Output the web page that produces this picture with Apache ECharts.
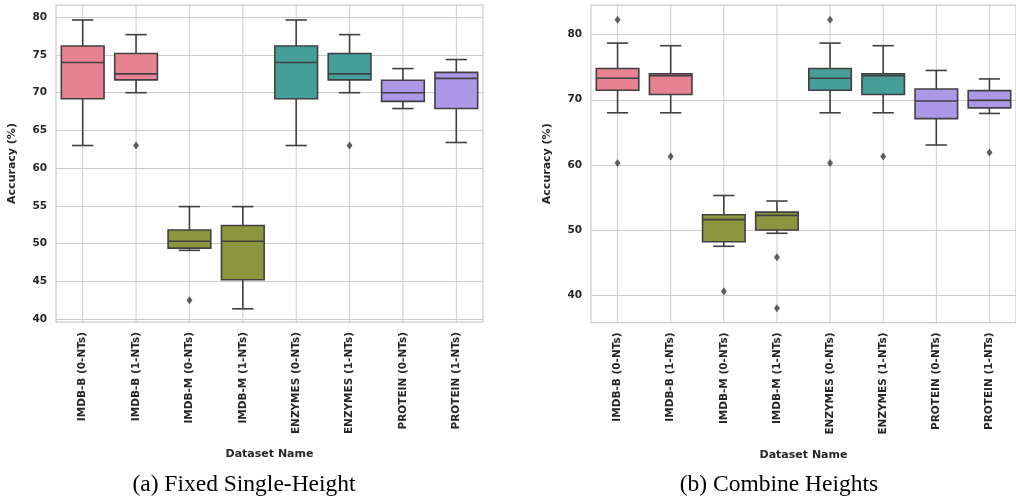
<!DOCTYPE html>
<html><head><meta charset="utf-8">
<script src="https://cdn.jsdelivr.net/npm/echarts@6/dist/echarts.min.js"></script>
<style>html,body{margin:0;padding:0;background:#fff}#c{width:1016px;height:498px}</style>
</head><body><div id="c"></div>
<script>
const categories = ['IMDB-B (0-NTs)', 'IMDB-B (1-NTs)', 'IMDB-M (0-NTs)', 'IMDB-M (1-NTs)', 'ENZYMES (0-NTs)', 'ENZYMES (1-NTs)', 'PROTEIN (0-NTs)', 'PROTEIN (1-NTs)'];
const yTicksFixed = [40, 45, 50, 55, 60, 65, 70, 75, 80];
const yTicksCombine = [40, 50, 60, 70, 80];

// (a) Fixed Single-Height
const fixedLow    = [63.0, 70.0, 49.1, 41.35, 63.0, 70.0, 67.9, 63.4];
const fixedQ1     = [69.2, 71.7, 49.4, 45.2, 69.2, 71.7, 68.85, 67.9];
const fixedMedian = [74.0, 72.5, 50.3, 50.3, 74.0, 72.5, 70.0, 71.9];
const fixedQ3     = [76.2, 75.2, 51.8, 52.4, 76.2, 75.2, 71.65, 72.7];
const fixedHigh   = [79.64, 77.7, 54.9, 54.9, 79.64, 77.7, 73.2, 74.4];
const fixedOutliers = [[1, 63.0], [2, 42.5], [5, 63.0]];

// (b) Combine Heights
const combLow    = [68.0, 68.0, 47.5, 49.5, 68.0, 68.0, 63.05, 67.9];
const combQ1     = [71.45, 70.8, 48.2, 50.0, 71.45, 70.8, 67.1, 68.75];
const combMedian = [73.3, 73.7, 51.6, 52.25, 73.3, 73.7, 69.8, 69.9];
const combQ3     = [74.8, 74.0, 52.35, 52.75, 74.8, 74.0, 71.65, 71.4];
const combHigh   = [78.7, 78.3, 55.3, 54.45, 78.7, 78.3, 74.5, 73.2];
const combOutliers = [[0, 82.3], [0, 60.3], [1, 61.3], [2, 40.6], [3, 45.8], [3, 38.0], [4, 82.3], [4, 60.3], [5, 61.3], [7, 61.9]];

const boxColors = ['#e68294', '#e68294', '#8c963f', '#8c963f', '#459e97', '#459e97', '#ab99e7', '#ab99e7'];
const edge = '#404040';
const gridColor = '#cccccc';
const textColor = '#262626';

function boxData(lo, q1, md, q3, hi) {
  return categories.map((c, i) => [i, lo[i], q1[i], md[i], q3[i], hi[i]]);
}

function renderBox(params, api) {
  const i = api.value(0);
  const lo = api.coord([i, api.value(1)]);
  const q1 = api.coord([i, api.value(2)]);
  const md = api.coord([i, api.value(3)]);
  const q3 = api.coord([i, api.value(4)]);
  const hi = api.coord([i, api.value(5)]);
  const bw = api.size([1, 0])[0] * 0.8;
  const cx = lo[0];
  const ls = {stroke: edge, lineWidth: 1.6};
  return {type: 'group', children: [
    {type: 'line', shape: {x1: cx, y1: q3[1], x2: cx, y2: hi[1]}, style: ls},
    {type: 'line', shape: {x1: cx, y1: q1[1], x2: cx, y2: lo[1]}, style: ls},
    {type: 'line', shape: {x1: cx - bw / 4, y1: hi[1], x2: cx + bw / 4, y2: hi[1]}, style: ls},
    {type: 'line', shape: {x1: cx - bw / 4, y1: lo[1], x2: cx + bw / 4, y2: lo[1]}, style: ls},
    {type: 'rect', shape: {x: cx - bw / 2, y: q3[1], width: bw, height: q1[1] - q3[1]}, style: {fill: boxColors[i], stroke: edge, lineWidth: 1.6}},
    {type: 'line', shape: {x1: cx - bw / 2, y1: md[1], x2: cx + bw / 2, y2: md[1]}, style: ls}
  ]};
}

function renderVGrid(params, api) {
  const cs = params.coordSys;
  const p = api.coord([api.value(0), api.value(1)]);
  return {type: 'line', shape: {x1: p[0], y1: cs.y, x2: p[0], y2: cs.y + cs.height}, style: {stroke: gridColor, lineWidth: 1}};
}

function xAxisCfg(gi) {
  return {
    type: 'category', gridIndex: gi, data: categories,
    axisLine: {show: false}, axisTick: {show: false}, splitLine: {show: false},
    axisLabel: {rotate: 90, fontSize: 10.5, fontWeight: 'bold', color: textColor, fontFamily: 'DejaVu Sans', margin: 10, interval: 0},
    name: 'Dataset Name', nameLocation: 'middle', nameGap: 127,
    nameTextStyle: {fontSize: 11, fontWeight: 'bold', color: textColor, fontFamily: 'DejaVu Sans'}
  };
}
function yAxisCfg(gi, min, max, ticks) {
  return {
    type: 'value', gridIndex: gi, min: min, max: max,
    axisLine: {show: false},
    axisTick: {show: false, customValues: ticks},
    splitLine: {show: true, lineStyle: {color: gridColor, width: 1}},
    axisLabel: {customValues: ticks, fontSize: 10.5, fontWeight: 'bold', color: textColor, fontFamily: 'DejaVu Sans', margin: 9},
    name: 'Accuracy (%)', nameLocation: 'middle', nameGap: 38,
    nameTextStyle: {fontSize: 11, fontWeight: 'bold', color: textColor, fontFamily: 'DejaVu Sans'}
  };
}

const chart = echarts.init(document.getElementById('c'));
chart.setOption({
  animation: false,
  backgroundColor: '#fff',
  grid: [
    {left: 56, top: 5, width: 427, height: 317, show: true, borderColor: gridColor, borderWidth: 1.25, backgroundColor: '#fff'},
    {left: 591, top: 5, width: 427, height: 317.5, show: true, borderColor: gridColor, borderWidth: 1.25, backgroundColor: '#fff'}
  ],
  xAxis: [xAxisCfg(0), xAxisCfg(1)],
  yAxis: [yAxisCfg(0, 39.6, 81.63, yTicksFixed), yAxisCfg(1, 35.8, 84.55, yTicksCombine)],
  graphic: [
    {type: 'text', style: {text: '(a) Fixed Single-Height', x: 244, y: 485, textAlign: 'center', textVerticalAlign: 'middle', font: '23.5px "Liberation Serif"', fill: '#000'}},
    {type: 'text', style: {text: '(b) Combine Heights', x: 779, y: 485, textAlign: 'center', textVerticalAlign: 'middle', font: '23.5px "Liberation Serif"', fill: '#000'}}
  ],
  series: [
    {type: 'custom', xAxisIndex: 0, yAxisIndex: 0, z: 1, silent: true, renderItem: renderVGrid, data: categories.map((c, i) => [i, fixedMedian[i]])},
    {type: 'custom', xAxisIndex: 1, yAxisIndex: 1, z: 1, silent: true, renderItem: renderVGrid, data: categories.map((c, i) => [i, combMedian[i]])},
    {type: 'custom', xAxisIndex: 0, yAxisIndex: 0, z: 3, renderItem: renderBox, encode: {x: 0, y: [1, 2, 3, 4, 5]}, data: boxData(fixedLow, fixedQ1, fixedMedian, fixedQ3, fixedHigh)},
    {type: 'custom', xAxisIndex: 1, yAxisIndex: 1, z: 3, renderItem: renderBox, encode: {x: 0, y: [1, 2, 3, 4, 5]}, data: boxData(combLow, combQ1, combMedian, combQ3, combHigh)},
    {type: 'scatter', xAxisIndex: 0, yAxisIndex: 0, z: 4, symbol: 'diamond', symbolSize: [6, 8], itemStyle: {color: '#3a3a3a'}, data: fixedOutliers},
    {type: 'scatter', xAxisIndex: 1, yAxisIndex: 1, z: 4, symbol: 'diamond', symbolSize: [6, 8], itemStyle: {color: '#3a3a3a'}, data: combOutliers}
  ]
});
</script></body></html>
